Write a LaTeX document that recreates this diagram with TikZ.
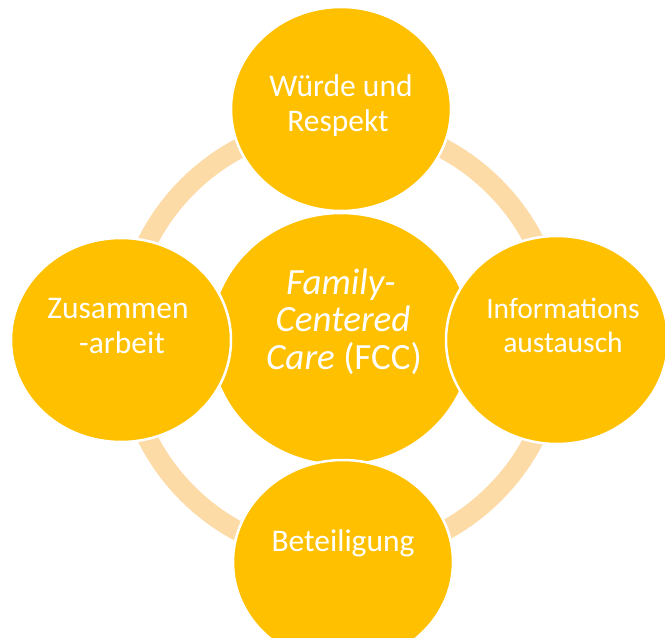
\documentclass[tikz,border=0pt]{standalone}
\usepackage{fontspec}
\setmainfont{Carlito}
\usetikzlibrary{shapes.geometric}
\definecolor{gold}{HTML}{FFC000}
\definecolor{ringcol}{HTML}{FDDBA7}
\tikzset{
  bubble/.style={ellipse, fill=gold, draw=white, line width=2.5bp, inner sep=0pt},
  outer/.style={bubble, minimum width=220bp, minimum height=204bp},
  lbl/.style={text=white, anchor=base, inner sep=0pt, font=\fontsize{31.5bp}{35bp}\selectfont},
  clbl/.style={text=white, anchor=base, inner sep=0pt, font=\fontsize{37bp}{40bp}\selectfont},
}
\begin{document}
\begin{tikzpicture}[x=1bp, y=-1bp]
  \clip (0,0) rectangle (665,638);
  \fill[white] (0,0) rectangle (665,638);
  % ring
  \coordinate (rc) at (341,340);
  \draw[ringcol, line width=20bp] (rc) circle[radius=217];
  % center
  \node[bubble, minimum width=262bp, minimum height=252bp] (c) at (341,339) {};
  % outer circles
  \node[outer] (t) at (341,109) {};
  \node[outer] (l) at (121,340) {};
  \node[outer, minimum width=222bp, minimum height=208bp] (r) at (557,340) {};
  \node[outer] (b) at (343,562) {};
  % labels
  \node[lbl] (t1) at (341,97) {Würde und};
  \node[lbl] (t2) at (338,132) {Respekt};
  \node[lbl] (l1) at (118,318) {Zusammen};
  \node[lbl] (l2) at (122,353) {-arbeit};
  \node[lbl, font=\fontsize{29.5bp}{34bp}\selectfont] (r1) at (563,318) {Informations};
  \node[lbl, font=\fontsize{29.5bp}{34bp}\selectfont] (r2) at (563,352) {austausch};
  \node[lbl] (b1) at (343,551) {Beteiligung};
  \node[clbl] (c1) at (341,294) {\itshape Family-};
  \node[clbl] (c2) at (343,331) {\itshape Centered};
  \node[clbl] (c3) at (344,369) {\itshape Care\/ \upshape(FCC)};
\end{tikzpicture}
\end{document}
